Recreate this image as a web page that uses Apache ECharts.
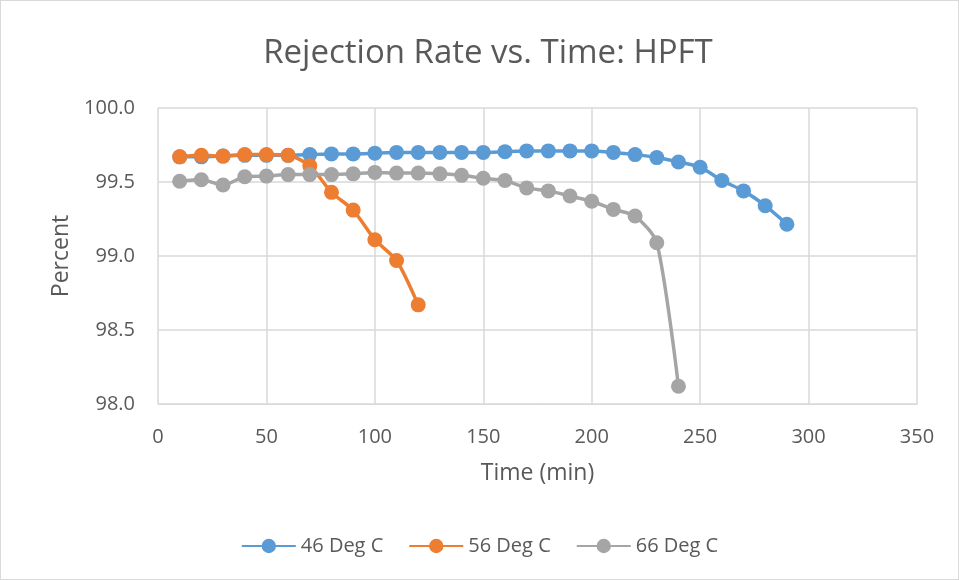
<!DOCTYPE html>
<html>
<head>
<meta charset="utf-8">
<script src="https://cdn.jsdelivr.net/npm/echarts@6/dist/echarts.min.js"></script>
<style>
  html, body { margin: 0; padding: 0; background: #fff; }
  #chart {
    width: 959px;
    height: 580px;
    box-sizing: border-box;
    border: 1px solid #d9d9d9;
  }
</style>
</head>
<body>
<div id="chart"></div>
<script>
// time points (min)
const times46 = [10, 20, 30, 40, 50, 60, 70, 80, 90, 100, 110, 120, 130, 140, 150,
  160, 170, 180, 190, 200, 210, 220, 230, 240, 250, 260, 270, 280, 290]
const times56 = [10, 20, 30, 40, 50, 60, 70, 80, 90, 100, 110, 120]
const times66 = [10, 20, 30, 40, 50, 60, 70, 80, 90, 100, 110, 120, 130, 140, 150,
  160, 170, 180, 190, 200, 210, 220, 230, 240]

// rejection rate (%)
const rate46 = [99.67, 99.67, 99.675, 99.68, 99.68, 99.68, 99.685, 99.69, 99.69, 99.695,
  99.70, 99.70, 99.70, 99.70, 99.70, 99.705, 99.71, 99.71, 99.71, 99.71, 99.70, 99.685,
  99.665, 99.635, 99.60, 99.51, 99.44, 99.34, 99.215]
const rate56 = [99.67, 99.68, 99.675, 99.685, 99.685, 99.68, 99.61, 99.43, 99.31, 99.11, 98.97, 98.67]
const rate66 = [99.505, 99.515, 99.48, 99.535, 99.54, 99.55, 99.55, 99.55, 99.555, 99.565,
  99.56, 99.56, 99.555, 99.545, 99.525, 99.51, 99.46, 99.44, 99.405, 99.37, 99.315, 99.27,
  99.09, 98.12]

const seriesNames = ['46 Deg C', '56 Deg C', '66 Deg C']
const seriesColors = ['#5b9bd5', '#ed7d31', '#a5a5a5']

const pairs = (xs, ys) => xs.map((x, i) => [x, ys[i]])
const seriesData = [pairs(times46, rate46), pairs(times56, rate56), pairs(times66, rate66)]

const textColor = '#595959'
const fontFamily = '"Open Sans", sans-serif'

const chart = echarts.init(document.getElementById('chart'))
chart.setOption({
  animation: false,
  textStyle: { fontFamily: fontFamily },
  title: {
    text: 'Rejection Rate vs. Time: HPFT',
    left: 482,
    textAlign: 'center',
    top: 31,
    textStyle: { fontSize: 33, fontWeight: 'normal', color: textColor, fontFamily: fontFamily }
  },
  grid: { left: 157, right: 41, top: 107, bottom: 175 },
  legend: {
    bottom: 18,
    left: 'center',
    itemWidth: 54,
    itemHeight: 18,
    itemGap: 25,
    textStyle: { fontSize: 20, color: textColor },
    data: seriesNames
  },
  xAxis: {
    type: 'value',
    min: 0,
    max: 350,
    interval: 50,
    name: 'Time (min)',
    nameLocation: 'middle',
    nameGap: 58,
    nameTextStyle: { fontSize: 23, color: textColor },
    axisLine: { show: true, lineStyle: { color: '#d9d9d9' } },
    axisTick: { show: false },
    axisLabel: { fontSize: 20, color: textColor, margin: 23 },
    splitLine: { show: true, lineStyle: { color: '#d9d9d9', width: 1.5 } }
  },
  yAxis: {
    type: 'value',
    min: 98,
    max: 100,
    interval: 0.5,
    name: 'Percent',
    nameLocation: 'middle',
    nameGap: 85,
    nameTextStyle: { fontSize: 23, color: textColor },
    axisLine: { show: false },
    axisTick: { show: false },
    axisLabel: {
      fontSize: 20,
      color: textColor,
      margin: 23,
      formatter: v => v.toFixed(1)
    },
    splitLine: { show: true, lineStyle: { color: '#d9d9d9', width: 1.5 } }
  },
  series: seriesNames.map((name, i) => ({
    name: name,
    type: 'line',
    data: seriesData[i],
    smooth: 0.25,
    symbol: 'circle',
    symbolSize: 15,
    color: seriesColors[i],
    lineStyle: { width: 3.5, color: seriesColors[i] },
    itemStyle: { color: seriesColors[i] }
  }))
})
</script>
</body>
</html>
